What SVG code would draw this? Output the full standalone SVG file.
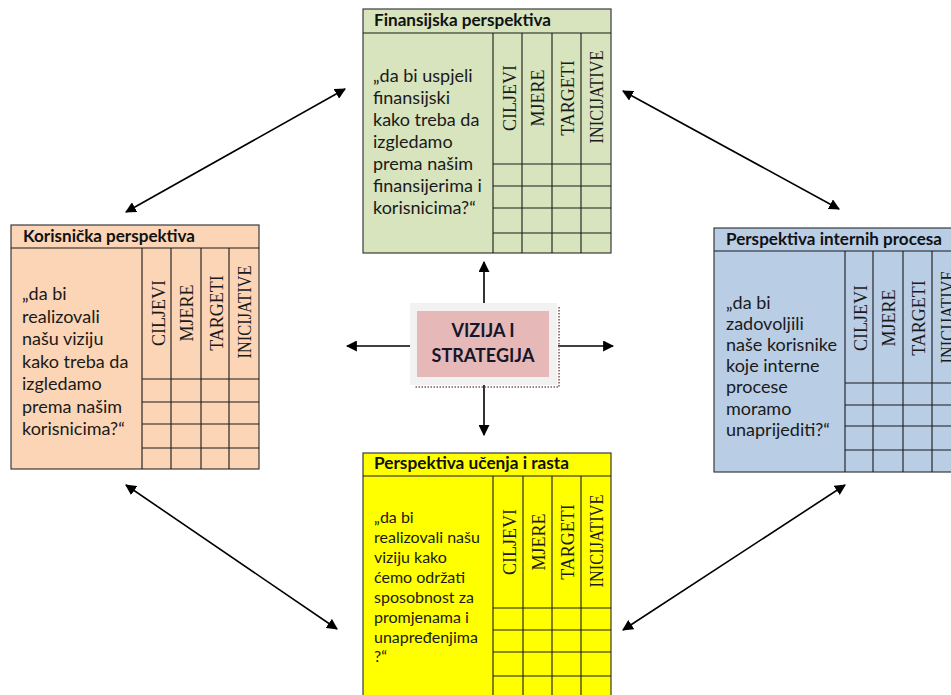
<svg xmlns="http://www.w3.org/2000/svg" width="951" height="695" viewBox="0 0 951 695">
<defs>
<marker id="ah" viewBox="0 0 10 10" refX="9" refY="5" markerWidth="11" markerHeight="11" markerUnits="userSpaceOnUse" orient="auto-start-reverse">
<path d="M0,0 L10,5 L0,10 z" fill="#000"/>
</marker>
<style>
.box{stroke:#3a3a3a;stroke-width:1.2}
.grid{stroke:#1a1a1a;stroke-width:1.1;fill:none}
.hdr{font-family:Lato,"Liberation Sans",sans-serif;font-weight:bold;font-size:17px;fill:#111}
.body{font-family:Lato,"Liberation Sans",sans-serif;font-size:18px;fill:#1a1a1a}
.bodys{font-family:Lato,"Liberation Sans",sans-serif;font-size:16px;fill:#1a1a1a}
.col{font-family:"Liberation Serif",serif;font-size:18px;fill:#1a1a1a;text-anchor:middle}
.conn{stroke:#000;stroke-width:1.6;fill:none}
.ctr{font-family:Lato,"Liberation Sans",sans-serif;font-weight:bold;font-size:18px;fill:#16162a;text-anchor:middle}
</style>
</defs>
<rect width="951" height="695" fill="#fff"/>

<g id="connectors">
<line class="conn" x1="484" y1="308" x2="484" y2="262" marker-end="url(#ah)"/>
<line class="conn" x1="484" y1="385" x2="484" y2="435" marker-end="url(#ah)"/>
<line class="conn" x1="412" y1="346" x2="347" y2="346" marker-end="url(#ah)"/>
<line class="conn" x1="558" y1="346" x2="613" y2="346" marker-end="url(#ah)"/>
<line class="conn" x1="126" y1="212" x2="345" y2="89" marker-start="url(#ah)" marker-end="url(#ah)"/>
<line class="conn" x1="623" y1="91" x2="839" y2="209" marker-start="url(#ah)" marker-end="url(#ah)"/>
<line class="conn" x1="126" y1="485" x2="337" y2="629" marker-start="url(#ah)" marker-end="url(#ah)"/>
<line class="conn" x1="623" y1="630" x2="845" y2="485" marker-start="url(#ah)" marker-end="url(#ah)"/>
</g>

<g id="node-finansijska">
<rect class="box" x="363" y="9" width="248" height="244" fill="#D7E4BD"/>
<line class="grid" x1="363" y1="33" x2="611" y2="33"/>
<path class="grid" d="M493,33V253M522,33V253M552,33V253M581,33V253M493,164H611M493,186H611M493,208H611M493,233H611"/>
<text class="hdr" x="374" y="26" textLength="177" lengthAdjust="spacingAndGlyphs">Finansijska perspektiva</text>
<text class="body" x="373" y="82">„da bi uspjeli</text>
<text class="body" x="373" y="104">finansijski</text>
<text class="body" x="373" y="126">kako treba da</text>
<text class="body" x="373" y="148">izgledamo</text>
<text class="body" x="373" y="170">prema našim</text>
<text class="body" x="373" y="192">finansijerima i</text>
<text class="body" x="373" y="214">korisnicima?“</text>
<text class="col" transform="translate(516,98) rotate(-90)">CILJEVI</text>
<text class="col" transform="translate(544,98) rotate(-90)">MJERE</text>
<text class="col" transform="translate(574,98) rotate(-90)">TARGETI</text>
<text class="col" transform="translate(603,97) rotate(-90)" textLength="93" lengthAdjust="spacingAndGlyphs">INICIJATIVE</text>
</g>

<g id="node-korisnicka">
<rect class="box" x="11" y="225" width="248" height="244" fill="#FBD5B5"/>
<line class="grid" x1="11" y1="248" x2="259" y2="248"/>
<path class="grid" d="M142,248V469M171,248V469M201,248V469M229,248V469M142,379H259M142,402H259M142,424H259M142,448H259"/>
<text class="hdr" x="23" y="242" textLength="172" lengthAdjust="spacingAndGlyphs">Korisnička perspektiva</text>
<text class="body" x="22" y="300">„da bi</text>
<text class="body" x="22" y="322.5">realizovali</text>
<text class="body" x="22" y="345">našu viziju</text>
<text class="body" x="22" y="367.5">kako treba da</text>
<text class="body" x="22" y="390">izgledamo</text>
<text class="body" x="22" y="412.5">prema našim</text>
<text class="body" x="22" y="435">korisnicima?“</text>
<text class="col" transform="translate(165,313) rotate(-90)">CILJEVI</text>
<text class="col" transform="translate(193,313) rotate(-90)">MJERE</text>
<text class="col" transform="translate(223,313) rotate(-90)">TARGETI</text>
<text class="col" transform="translate(251,312) rotate(-90)" textLength="93" lengthAdjust="spacingAndGlyphs">INICIJATIVE</text>
</g>

<g id="node-interni">
<rect class="box" x="714" y="228" width="250" height="244" fill="#B9CDE5"/>
<line class="grid" x1="714" y1="251" x2="964" y2="251"/>
<path class="grid" d="M845,251V472M873,251V472M903,251V472M932,251V472M845,383H964M845,405H964M845,426H964M845,450H964"/>
<text class="hdr" x="726" y="245" textLength="216" lengthAdjust="spacingAndGlyphs">Perspektiva internih procesa</text>
<text class="body" x="726" y="309">„da bi</text>
<text class="body" x="726" y="330">zadovoljili</text>
<text class="body" x="726" y="351">naše korisnike</text>
<text class="body" x="726" y="372">koje interne</text>
<text class="body" x="726" y="393">procese</text>
<text class="body" x="726" y="414.5">moramo</text>
<text class="body" x="726" y="435.5">unaprijediti?“</text>
<text class="col" transform="translate(867,318) rotate(-90)">CILJEVI</text>
<text class="col" transform="translate(895,318) rotate(-90)">MJERE</text>
<text class="col" transform="translate(925,318) rotate(-90)">TARGETI</text>
<text class="col" transform="translate(954,317) rotate(-90)" textLength="93" lengthAdjust="spacingAndGlyphs">INICIJATIVE</text>
</g>

<g id="node-ucenje">
<rect class="box" x="363" y="453" width="248" height="250" fill="#FFFF00"/>
<line class="grid" x1="363" y1="476" x2="611" y2="476"/>
<path class="grid" d="M493,476V703M523,476V703M552,476V703M581,476V703M493,608H611M493,630H611M493,652H611M493,676H611"/>
<text class="hdr" x="374" y="469" textLength="195" lengthAdjust="spacingAndGlyphs">Perspektiva učenja i rasta</text>
<text class="bodys" x="374" y="523">„da bi</text>
<text class="bodys" x="374" y="543">realizovali našu</text>
<text class="bodys" x="374" y="563">viziju kako</text>
<text class="bodys" x="374" y="583">ćemo održati</text>
<text class="bodys" x="374" y="603">sposobnost za</text>
<text class="bodys" x="374" y="623">promjenama i</text>
<text class="bodys" x="374" y="643">unapređenjima</text>
<text class="bodys" x="374" y="662">?“</text>
<text class="col" transform="translate(516,542) rotate(-90)">CILJEVI</text>
<text class="col" transform="translate(545,542) rotate(-90)">MJERE</text>
<text class="col" transform="translate(574,542) rotate(-90)">TARGETI</text>
<text class="col" transform="translate(603,541) rotate(-90)" textLength="93" lengthAdjust="spacingAndGlyphs">INICIJATIVE</text>
</g>

<g id="node-vizija">
<path d="M559,307V387H414" fill="none" stroke="#8a5a5a" stroke-width="1.6" stroke-dasharray="1.5 1.5"/>
<rect x="410" y="303" width="147" height="82" fill="#F2F2F2"/>
<rect x="417" y="311" width="132" height="66" fill="#E6B9B8"/>
<text class="ctr" x="483" y="337">VIZIJA I</text>
<text class="ctr" x="483" y="362">STRATEGIJA</text>
</g>
</svg>
